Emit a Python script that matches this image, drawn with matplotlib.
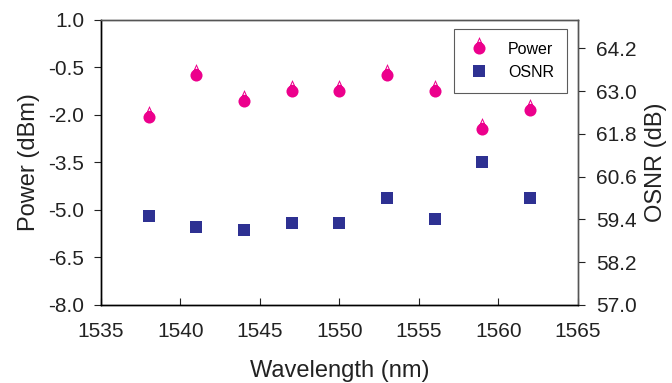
import numpy as np
import matplotlib
matplotlib.use("Agg")
import matplotlib.pyplot as plt
from matplotlib.path import Path

plt.rcParams["font.family"] = ["Liberation Sans", "DejaVu Sans"]

# data
wavelength = [1538, 1541, 1544, 1547, 1550, 1553, 1556, 1559, 1562]
power_dbm = [-2.06, -0.75, -1.57, -1.26, -1.25, -0.75, -1.25, -2.44, -1.84]
osnr_db = [59.49, 59.20, 59.09, 59.30, 59.30, 60.01, 59.40, 61.01, 60.01]

power_ticks = [1.0, -0.5, -2.0, -3.5, -5.0, -6.5, -8.0]
osnr_ticks = [57.0, 58.2, 59.4, 60.6, 61.8, 63.0, 64.2]
wl_ticks = [1535, 1540, 1545, 1550, 1555, 1560, 1565]

PINK = "#ec008c"
BLUE = "#2e3192"
TXT = "#222222"


def teardrop():
    """circle with a small hollow triangle on top (the original's power marker)"""
    circ = Path.unit_circle()
    tri = [(-0.5, 0.8), (0.5, 0.8), (0.0, 1.9), (-0.5, 0.8)]
    hole = [(-0.17, 1.1), (0.0, 1.52), (0.17, 1.1), (-0.17, 1.1)]
    verts = list(circ.vertices) + tri + hole
    codes = list(circ.codes)
    codes += [Path.MOVETO, Path.LINETO, Path.LINETO, Path.CLOSEPOLY]
    codes += [Path.MOVETO, Path.LINETO, Path.LINETO, Path.CLOSEPOLY]
    return Path(verts, codes)


fig = plt.figure(figsize=(6.72, 3.83), dpi=100)
ax = fig.add_axes([0.150, 0.204, 0.710, 0.744])
ax2 = ax.twinx()

p1, = ax.plot(wavelength, power_dbm, linestyle="none", marker=teardrop(),
              markersize=16.5, color=PINK, markeredgewidth=0, label="Power")
p2, = ax2.plot(wavelength, osnr_db, linestyle="none", marker="s",
               markersize=8.6, color=BLUE, markeredgewidth=0, label="OSNR")

ax.set_xlim(1535, 1565)
ax.set_ylim(-8.0, 1.0)
ax2.set_ylim(57.0, 65.0)
ax.set_xticks(wl_ticks)
ax.set_yticks(power_ticks)
ax.set_yticklabels([f"{v:.1f}" for v in power_ticks])
ax2.set_yticks(osnr_ticks)
ax2.set_yticklabels([f"{v:.1f}" for v in osnr_ticks])

ax.tick_params(axis="y", direction="out", length=5, width=0.8, pad=7,
               labelsize=15, colors=TXT)
ax.tick_params(axis="x", direction="in", length=5, width=0.8, pad=12,
               labelsize=15, colors=TXT)
ax2.tick_params(axis="y", direction="out", length=5, width=0.8, pad=8,
                labelsize=15, colors=TXT)

for a in (ax, ax2):
    a.spines["left"].set_color("black")
    a.spines["bottom"].set_color("black")
    a.spines["top"].set_color("#555555")
    a.spines["right"].set_color("#555555")
    for s in a.spines.values():
        s.set_linewidth(1.0)

ax.set_xlabel("Wavelength (nm)", fontsize=17, color=TXT, labelpad=14)
ax.set_ylabel("Power (dBm)", fontsize=17, color=TXT, labelpad=6)
ax2.set_ylabel("OSNR (dB)", fontsize=17, color=TXT, labelpad=6)

leg = ax2.legend([p1, p2], ["Power", "OSNR"], loc="upper right",
                 bbox_to_anchor=(0.977, 0.968), borderaxespad=0,
                 fontsize=11.5, frameon=True, fancybox=False,
                 handletextpad=1.0, handlelength=1.6, borderpad=0.8,
                 labelspacing=0.5)
leg.get_frame().set_edgecolor("#333333")
leg.get_frame().set_linewidth(0.8)

fig.savefig("out.png", dpi=100)
